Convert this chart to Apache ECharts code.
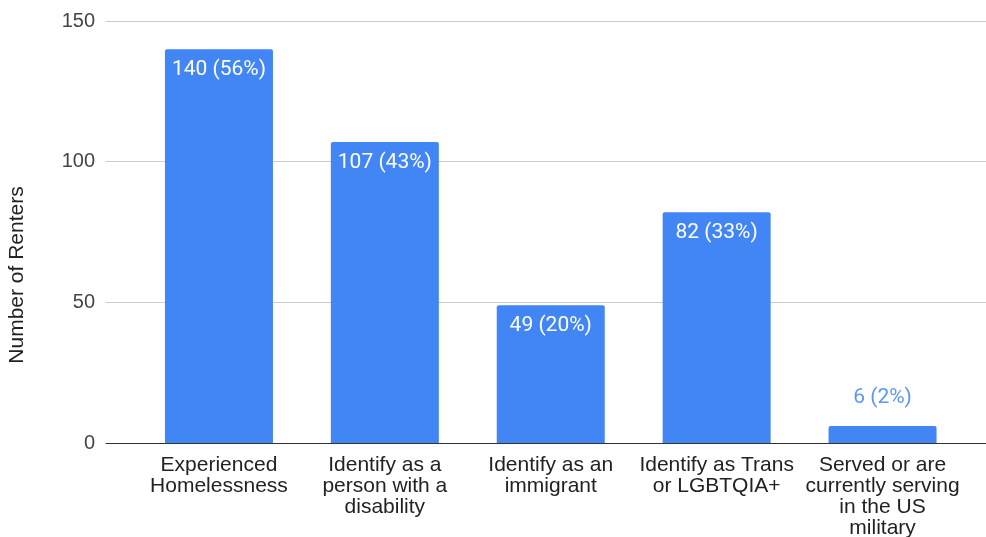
<!DOCTYPE html>
<html><head><meta charset="utf-8">
<script src="https://cdn.jsdelivr.net/npm/echarts@6/dist/echarts.min.js"></script>
<style>html,body{margin:0;padding:0;background:#fff}#c{width:986px;height:537px}</style>
</head><body><div id="c"></div>
<script>
const categories = ["Experienced\nHomelessness","Identify as a\nperson with a\ndisability","Identify as an\nimmigrant","Identify as Trans\nor LGBTQIA+","Served or are\ncurrently serving\nin the US\nmilitary"];
const values = [140, 107, 49, 82, 6];
const percents = [56, 43, 20, 33, 2];
const yTicks = {min: 0, max: 150, interval: 50};
const yTitle = "Number of Renters";

const ARIAL = "'Liberation Sans', Arial, sans-serif";
const ROBOTO = "Roboto, sans-serif";
const chart = echarts.init(document.getElementById('c'), null, {renderer: 'canvas'});
const data = values.map((v, i) => {
  const d = {value: v};
  if (v < 20) {
    d.label = {position: 'top', distance: 18, color: '#5c97f5'};
  }
  return d;
});
chart.setOption({
  animation: false,
  grid: [
    {left: 106, right: 0, top: 21, bottom: 94, containLabel: false, outerBoundsMode: 'none'},
    {left: 136, right: 20.5, top: 21, bottom: 94, containLabel: false, outerBoundsMode: 'none'}
  ],
  xAxis: [
    {gridIndex: 0, type: 'category', data: [''], axisLine: {show: true, lineStyle: {color: '#333', width: 1}}, axisTick: {show: false}, axisLabel: {show: false}},
    {gridIndex: 1, type: 'category', data: categories, axisLine: {show: false}, axisTick: {show: false},
     axisLabel: {interval: 0, margin: 12, fontFamily: ARIAL, fontSize: 21, color: '#222', lineHeight: 21}}
  ],
  yAxis: [
    {gridIndex: 0, type: 'value', min: yTicks.min, max: yTicks.max, interval: yTicks.interval,
     axisLine: {show: false}, axisTick: {show: false},
     axisLabel: {margin: 11, fontFamily: ARIAL, fontSize: 20, color: '#444'},
     splitLine: {lineStyle: {color: '#cccccc', width: 1}}},
    {gridIndex: 1, type: 'value', min: yTicks.min, max: yTicks.max, interval: yTicks.interval, show: false}
  ],
  graphic: [{
    type: 'text', x: 17, y: 275, rotation: Math.PI / 2,
    style: {text: yTitle, font: '21px ' + ARIAL, fill: '#222', textAlign: 'center', textVerticalAlign: 'middle'}
  }],
  series: [{
    type: 'bar', xAxisIndex: 1, yAxisIndex: 1, data: data, barWidth: 108,
    itemStyle: {color: '#4285f4', borderRadius: [2, 2, 0, 0]},
    label: {show: true, position: 'insideTop', distance: 10, fontFamily: ROBOTO, fontSize: 21, color: '#fff',
      formatter: p => values[p.dataIndex] + ' (' + percents[p.dataIndex] + '%)'}
  }]
});
</script></body></html>
